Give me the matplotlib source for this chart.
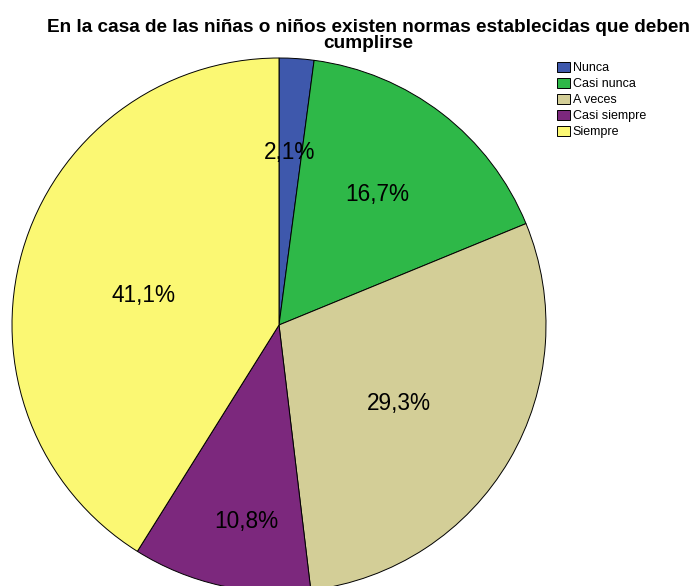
import matplotlib.pyplot as plt
from matplotlib.patches import Patch
import numpy as np

plt.rcParams['font.family'] = ['Liberation Sans', 'DejaVu Sans']

categorias = ['Nunca', 'Casi nunca', 'A veces', 'Casi siempre', 'Siempre']
porcentajes = [2.1, 16.7, 29.3, 10.8, 41.1]
colores = ['#3E58AC', '#2EB848', '#D3CE97', '#7C287D', '#FBF873']
titulo = ['En la casa de las niñas o niños existen normas establecidas que deben',
          'cumplirse']

# where each percentage label sits: fraction of radius, angle tweak (deg)
dist_etiquetas = [0.656, 0.621, 0.531, 0.738, 0.520]
giro_etiquetas = [0.2, 1.2, -2.0, 3.1, 2.9]

fig = plt.figure(figsize=(6.97, 5.86), dpi=100)
# centre at (279, 325) px, radius 267 px
ax = fig.add_axes([(279 - 267) / 697, (586 - 325 - 267) / 586, 534 / 697, 534 / 586])

wedges, _ = ax.pie(porcentajes, colors=colores, startangle=90, counterclock=False,
                   radius=1, wedgeprops=dict(edgecolor='black', linewidth=0.7))
for w in wedges:
    w.set_clip_on(False)
ax.set_xlim(-1, 1)
ax.set_ylim(-1, 1)
ax.set_aspect('equal')
ax.axis('off')

for w, p, d, g in zip(wedges, porcentajes, dist_etiquetas, giro_etiquetas):
    ang = np.deg2rad((w.theta1 + w.theta2) / 2 + g)
    ax.text(d * np.cos(ang), d * np.sin(ang), f'{p:.1f}%'.replace('.', ','),
            ha='center', va='center_baseline', fontsize=16.3)

fig.text(368 / 697, 1 - 31.5 / 586, titulo[0], ha='center', va='baseline',
         fontsize=13.7, fontweight='bold')
fig.text(368 / 697, 1 - 48.5 / 586, titulo[1], ha='center', va='baseline',
         fontsize=13.7, fontweight='bold')

handles = [Patch(facecolor=c, edgecolor='black', linewidth=0.7) for c in colores]
fig.legend(handles, categorias, loc='upper left', bbox_to_anchor=(557 / 697, 1 - 62 / 586),
           frameon=False, fontsize=9, handlelength=1.05, handleheight=0.88,
           handletextpad=0.2, labelspacing=0.28, borderaxespad=0, borderpad=0)

fig.savefig('out.png', dpi=100)
